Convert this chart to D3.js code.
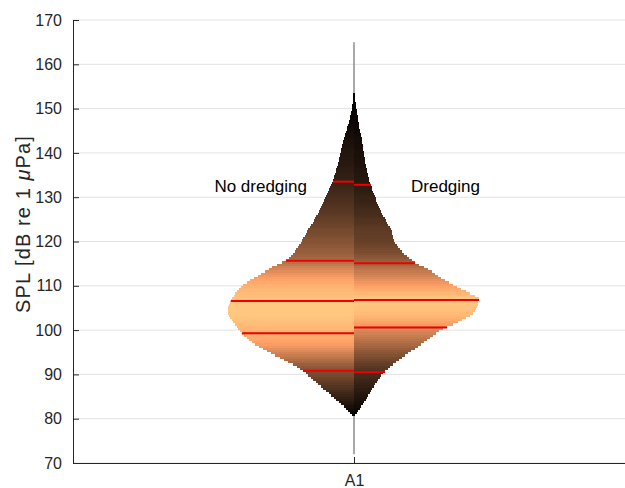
<!DOCTYPE html>
<html>
<head>
<meta charset="utf-8">
<script src="https://cdn.jsdelivr.net/npm/d3@7"></script>
<style>
  html, body { margin: 0; padding: 0; background: #ffffff; }
  svg { display: block; font-family: "Liberation Sans", Arial, Helvetica, sans-serif; }
</style>
</head>
<body>
<div id="chart"></div>
<script>
// Split violin of sound pressure level at station A1
const categories = ["A1"];
const groupLabels = ["No dredging", "Dredging"];
const yTicks = [70, 80, 90, 100, 110, 120, 130, 140, 150, 160, 170];

// Histogram bins: first bin starts at 80.5 dB, 0.5 dB wide (relative density per bin)
const binStart = 80.5;
const binWidth = 0.5;
const densityNoDredging = [
  2, 4, 6, 8, 10, 13, 15, 18, 20, 23,
  25, 28, 31, 33, 36, 38, 41, 43, 46, 48,
  51, 54, 57, 61, 66, 70, 74, 79, 83, 87,
  91, 95, 99, 102, 105, 107, 110, 112, 114, 116,
  117, 119, 121, 122, 124, 125, 126, 126, 126, 126,
  125, 124, 123, 122, 120, 119, 117, 115, 113, 111,
  107, 104, 100, 96, 93, 89, 85, 82, 77, 72,
  68, 65, 63, 61, 59, 58, 56, 55, 53, 52,
  51, 49, 48, 47, 46, 44, 43, 41, 40, 39,
  38, 36, 35, 34, 33, 32, 31, 30, 29, 28,
  27, 26, 25, 24, 23, 22, 21, 20, 20, 19,
  18, 18, 17, 16, 16, 15, 15, 14, 14, 13,
  13, 12, 12, 11, 11, 10, 9, 9, 8, 7,
  7, 6, 5, 5, 4, 4, 3, 3, 2, 2,
  2, 1, 1, 1, 1, 1
];
const densityDredging = [
  1, 3, 4, 6, 7, 9, 10, 12, 13, 14,
  16, 17, 18, 20, 21, 23, 24, 26, 27, 29,
  31, 34, 36, 39, 42, 45, 48, 51, 54, 57,
  61, 64, 67, 70, 73, 76, 79, 82, 85, 89,
  93, 99, 104, 108, 112, 116, 119, 121, 122, 123,
  124, 124, 125, 125, 121, 116, 112, 107, 103, 99,
  95, 91, 87, 84, 81, 78, 74, 70, 65, 61,
  58, 55, 53, 50, 48, 46, 44, 43, 41, 40,
  39, 39, 38, 38, 37, 36, 34, 33, 32, 31,
  29, 28, 27, 26, 25, 24, 23, 22, 22, 21,
  20, 19, 18, 18, 17, 16, 15, 15, 14, 14,
  13, 13, 12, 12, 11, 11, 11, 10, 10, 10,
  9, 9, 9, 8, 8, 8, 7, 7, 6, 6,
  5, 5, 5, 4, 4, 4, 3, 3, 3, 2,
  2, 2, 1, 1, 1, 1
];

// Quantile markers (dB) and full data range (dB)
const quantilesNoDredging = [90.84, 99.27, 106.57, 115.67, 133.5];
const quantilesDredging = [90.5, 100.6, 106.8, 115.07, 132.8];
const dataRange = [72, 165];

const W = 625, H = 488;
const margin = { left: 73, top: 20, bottom: 25 };
const plotRight = 635;

const svg = d3.select("#chart").append("svg")
  .attr("width", W).attr("height", H);

const x = d3.scaleLinear().domain([0.5, categories.length + 0.5]).range([margin.left, plotRight]);
const y = d3.scaleLinear().domain([70, 170]).range([H - margin.bottom, margin.top]);
const maxDensity = d3.max(densityNoDredging.concat(densityDredging));
const halfWidth = d3.scaleLinear().domain([0, maxDensity]).range([0, 0.2245]);

// copper colormap
function copper(t) {
  return d3.rgb(255 * Math.min(1, 1.25 * t), 255 * 0.7812 * t, 255 * 0.4975 * t).formatHex();
}

// horizontal grid
svg.append("g").selectAll("line").data(yTicks).join("line")
  .attr("x1", x(0.5)).attr("x2", x(categories.length + 0.5))
  .attr("y1", d => y(d)).attr("y2", d => y(d))
  .attr("stroke", "#e3e3e3").attr("stroke-width", 1);

const cx = x(1);

// data range line
svg.append("line")
  .attr("x1", cx).attr("x2", cx)
  .attr("y1", y(dataRange[1])).attr("y2", y(dataRange[0]))
  .attr("stroke", "#8c8c8c").attr("stroke-width", 1.5);

function drawHalf(density, side) {
  const g = svg.append("g").attr("shape-rendering", "crispEdges");
  g.selectAll("rect").data(density).join("rect")
    .attr("x", d => side < 0 ? x(1 - halfWidth(d)) : cx)
    .attr("width", d => x(1 + halfWidth(d)) - cx)
    .attr("y", (d, i) => y(binStart + (i + 1) * binWidth))
    .attr("height", (d, i) => y(binStart + i * binWidth) - y(binStart + (i + 1) * binWidth))
    .attr("fill", d => copper(d / maxDensity));
}
drawHalf(densityNoDredging, -1);
drawHalf(densityDredging, 1);

function drawQuantiles(qs, density, side) {
  svg.append("g").selectAll("line").data(qs).join("line")
    .attr("x1", cx)
    .attr("x2", q => {
      const w = halfWidth(density[Math.floor((q - binStart) / binWidth)]);
      return x(1 + side * w);
    })
    .attr("y1", q => y(q)).attr("y2", q => y(q))
    .attr("stroke", "#ee0000").attr("stroke-width", 2);
}
drawQuantiles(quantilesNoDredging, densityNoDredging, -1);
drawQuantiles(quantilesDredging, densityDredging, 1);

// group labels
svg.append("text").text(groupLabels[0])
  .attr("x", cx - 47).attr("y", y(131.2))
  .attr("text-anchor", "end").attr("font-size", 17).attr("fill", "#000");
svg.append("text").text(groupLabels[1])
  .attr("x", cx + 57).attr("y", y(131.2))
  .attr("text-anchor", "start").attr("font-size", 17).attr("fill", "#000");

// axes
const axisColor = "#262626";
const yAxis = svg.append("g").attr("transform", `translate(${margin.left},0)`)
  .call(d3.axisLeft(y).tickValues(yTicks).tickSizeInner(-6).tickSizeOuter(0).tickPadding(11));
const xAxis = svg.append("g").attr("transform", `translate(0,${y(70)})`)
  .call(d3.axisBottom(x).tickValues([1]).tickFormat((d, i) => categories[i])
    .tickSizeInner(-6).tickSizeOuter(0).tickPadding(12));
[yAxis, xAxis].forEach(a => {
  a.select(".domain").attr("stroke", axisColor).attr("stroke-width", 1);
  a.selectAll(".tick line").attr("stroke", axisColor);
  a.selectAll(".tick text").attr("fill", axisColor).attr("font-size", 16)
    .attr("font-family", "\"Liberation Sans\", Arial, sans-serif");
});

// y axis title
const yl = svg.append("text")
  .attr("transform", `translate(30,224) rotate(-90)`)
  .attr("text-anchor", "middle").attr("font-size", 20)
  .attr("letter-spacing", 1.1).attr("fill", axisColor);
yl.append("tspan").text("SPL [dB re 1 ");
yl.append("tspan").attr("font-style", "italic").text("\u03bc");
yl.append("tspan").text("Pa]");
</script>
</body>
</html>
